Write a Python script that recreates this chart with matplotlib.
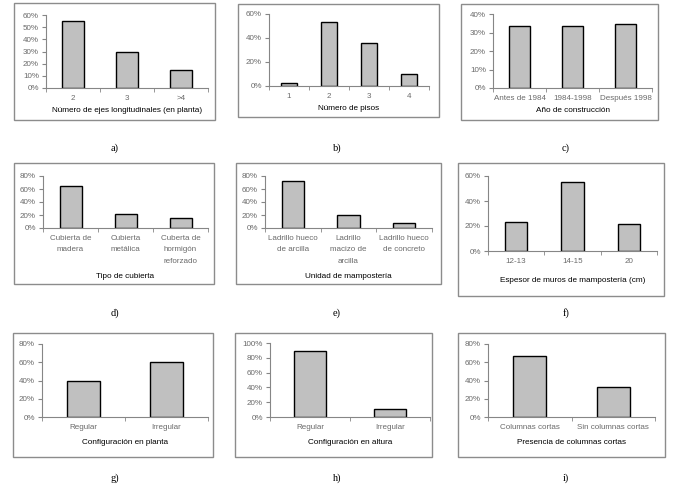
import matplotlib
matplotlib.use("Agg")
from matplotlib import pyplot as plt
from matplotlib.patches import Rectangle
from matplotlib.ticker import PercentFormatter, FixedLocator

W, H = 681, 497

# data, one small list per panel
cats_a = ["2", "3", ">4"]
vals_a = [55, 30, 15]
cats_b = ["1", "2", "3", "4"]
vals_b = [2.5, 53, 36, 10]
cats_c = ["Antes de 1984", "1984-1998", "Después 1998"]
vals_c = [33.5, 33.5, 34.5]
cats_d = ["Cubierta de\nmadera", "Cubierta\nmetálica", "Cuberta de\nhormigón\nreforzado"]
vals_d = [64, 21, 15]
cats_e = ["Ladrillo hueco\nde arcilla", "Ladrillo\nmacizo de\narcilla", "Ladrillo hueco\nde concreto"]
vals_e = [73, 20, 8]
cats_f = ["12-13", "14-15", "20"]
vals_f = [23, 55, 22]
cats_g = ["Regular", "Irregular"]
vals_g = [40, 60]
cats_h = ["Regular", "Irregular"]
vals_h = [89, 11]
cats_i = ["Columnas cortas", "Sin columnas cortas"]
vals_i = [67, 33]

xlabels = ["Número de ejes longitudinales (en planta)", "Número de pisos",
           "Año de construcción", "Tipo de cubierta", "Unidad de mampostería",
           "Espesor de muros de mampostería (cm)", "Configuración en planta",
           "Configuración en altura", "Presencia de columnas cortas"]
captions = ["a)", "b)", "c)", "d)", "e)", "f)", "g)", "h)", "i)"]

plt.rcParams['font.family'] = ['Liberation Sans', 'DejaVu Sans']

fig = plt.figure(figsize=(W / 100, H / 100), dpi=100)


def px_rect(x0, y0, x1, y1):
    # pixel box (top-left origin) -> figure fraction [l, b, w, h]
    return [x0 / W, 1 - y1 / H, (x1 - x0) / W, (y1 - y0) / H]


panels = [
    # cats, vals, ymax, ystep, plot area, panel box, label y, caption pos
    (cats_a, vals_a, 60, 10, (46, 15, 208, 88), (14, 3, 215, 120), 110, (115, 148)),
    (cats_b, vals_b, 60, 20, (269, 14, 429, 86), (238, 4, 439, 117), 108, (337, 148)),
    (cats_c, vals_c, 40, 10, (493, 14, 652, 88), (461, 4, 658, 120), 110, (566, 148)),
    (cats_d, vals_d, 80, 20, (43, 176, 208, 228), (14, 163, 214, 284), 277, (115, 313)),
    (cats_e, vals_e, 80, 20, (265, 176, 432, 228), (236, 163, 441, 284), 277, (337, 313)),
    (cats_f, vals_f, 60, 20, (488, 176, 657, 251), (458, 163, 664, 296), 281, (566, 313)),
    (cats_g, vals_g, 80, 20, (42, 344, 208, 417), (13, 333, 213, 457), 443, (115, 478)),
    (cats_h, vals_h, 100, 20, (270, 343, 430, 417), (235, 333, 432, 457), 443, (337, 478)),
    (cats_i, vals_i, 80, 20, (488, 344, 655, 417), (458, 333, 665, 457), 443, (566, 478)),
]

for k, (cats, vals, ymax, ystep, area, box, ly, cap) in enumerate(panels):
    # panel frame
    fig.patches.append(Rectangle((box[0] / W, 1 - box[3] / H),
                                 (box[2] - box[0]) / W, (box[3] - box[1]) / H,
                                 transform=fig.transFigure, fill=False,
                                 edgecolor="#8c8c8c", linewidth=1.0))
    ax = fig.add_axes(px_rect(*area))
    n = len(cats)
    xs = list(range(n))
    ax.bar(xs, vals, width=0.4, color="#c0c0c0", edgecolor="black", linewidth=1.0)
    ax.set_xlim(-0.5, n - 0.5)
    ax.set_ylim(0, ymax)
    ax.yaxis.set_major_locator(FixedLocator(list(range(0, ymax + 1, ystep))))
    ax.yaxis.set_major_formatter(PercentFormatter(decimals=0))
    ax.set_xticks(xs)
    ax.set_xticklabels(cats, linespacing=1.9)
    ax.xaxis.set_minor_locator(FixedLocator([i - 0.5 for i in range(n + 1)]))
    ax.tick_params(axis="x", which="major", length=0, pad=5, labelsize=5.8,
                   labelcolor="#6a6a6a")
    ax.tick_params(axis="x", which="minor", length=3, color="#868686", direction="out")
    ax.tick_params(axis="y", length=3, color="#868686", labelsize=5.8,
                   labelcolor="#6a6a6a", pad=2)
    for s in ["top", "right"]:
        ax.spines[s].set_visible(False)
    for s in ["left", "bottom"]:
        ax.spines[s].set_color("#868686")
        ax.spines[s].set_linewidth(0.8)
    ax.patch.set_alpha(0)
    cx = (area[0] + area[2]) / 2
    fig.text(cx / W, 1 - ly / H, xlabels[k], ha="center", va="center",
             fontsize=5.9, color="black")
    fig.text(cap[0] / W, 1 - cap[1] / H, captions[k], ha="center", va="center",
             fontsize=7.5, family=['Liberation Serif', 'DejaVu Serif'])

fig.savefig("out.png", dpi=100)
